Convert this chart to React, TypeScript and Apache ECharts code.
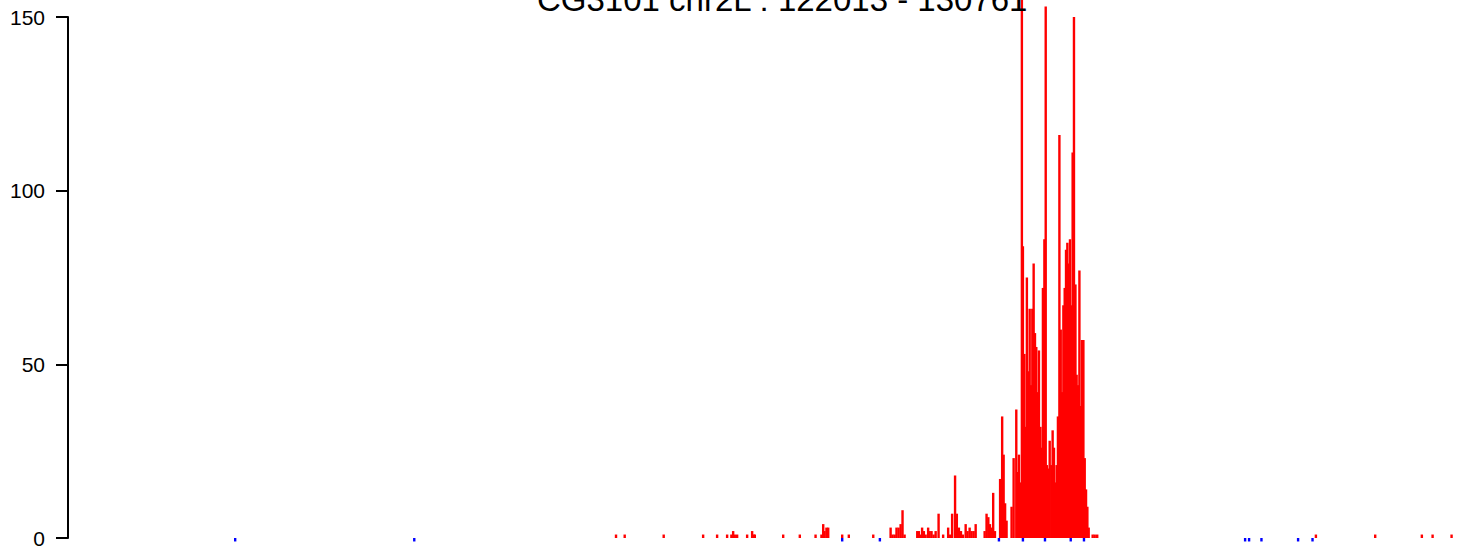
import React, { useEffect, useRef } from "react";
import * as echarts from "echarts";

const TITLE = "CG3101 chr2L : 122013 - 130761";
const X_MIN = 121500;
const X_MAX = 131000;
const Y_TICKS = [0, 50, 100, 150];

// plus-strand read counts (genomic position, count)
const redPos = [
  125224, 125283, 125548, 125816, 125911, 125979, 126008, 126020, 126031, 126047,
  126115, 126149, 126160, 126167, 126360, 126473, 126580, 126620, 126632, 126641,
  126654, 126666, 126761, 126806, 126972,
  127090, 127103, 127117, 127130, 127144, 127158, 127171, 127185,
  127271, 127282, 127294, 127304, 127316, 127328, 127345, 127355, 127368, 127382,
  127396, 127416, 127447, 127481, 127493, 127508, 127528, 127540, 127554, 127568,
  127581, 127600, 127613, 127627, 127640, 127654, 127668,
  127729, 127742, 127754, 127765, 127776, 127787, 127799, 127834, 127848, 127858,
  127868, 127878,
  127912, 127926, 127944, 127953, 127962, 127974, 127982, 127989, 127999, 128008,
  128016, 128026, 128035, 128044, 128053, 128062, 128071, 128080, 128089, 128098,
  128108, 128116, 128125, 128135, 128144, 128152, 128162, 128171,
  128182, 128191, 128200, 128210, 128218, 128227, 128237, 128246, 128254, 128264,
  128273, 128282, 128291, 128300, 128309, 128318, 128327, 128336, 128346, 128354,
  128363, 128373, 128382, 128390, 128400, 128409, 128418, 128427, 128436, 128463,
  128477, 128494,
  129980, 130383, 130700, 130773, 130902,
];
const redCount = [
  1, 1, 1, 1, 1, 1, 1, 2, 1, 1,
  1, 2, 1, 1, 1, 1, 1, 1, 4, 2,
  3, 3, 1, 1, 1,
  3, 1, 1, 3, 3, 4, 8, 1,
  2, 2, 1, 3, 2, 1, 3, 2, 2, 1,
  2, 7, 1, 3, 1, 7, 18, 7, 3, 2,
  1, 4, 2, 3, 2, 2, 4,
  2, 7, 6, 4, 3, 13, 2, 17, 35, 24,
  10, 5,
  9, 23, 37, 19, 24, 16, 156, 84, 53, 32,
  75, 48, 66, 44, 66, 79, 59, 55, 42, 54,
  32, 26, 72, 86, 153, 21, 20, 28,
  21, 31, 26, 16, 21, 35, 116, 60, 42, 67,
  72, 83, 85, 79, 86, 67, 111, 150, 73, 47,
  44, 77, 38, 57, 57, 23, 14, 9, 3, 1,
  1, 1,
  1, 1, 1, 1, 1,
];

// minus-strand read counts
const bluePos = [
  122636, 123853, 126761, 127017, 127826, 127989, 128139, 128314, 128404, 129499,
  129526, 129610, 129859, 129957,
];
const blueCount = [-1, -1, -1, -1, -1, -1, -1, -1, -1, -1, -1, -1, -1, -1];

const FONT = "'Liberation Sans', Arial, Helvetica, sans-serif";

export default function App() {
  const ref = useRef<HTMLDivElement>(null);

  useEffect(() => {
    if (!ref.current) return;
    const chart = echarts.init(ref.current, undefined, { renderer: "svg" });
    chart.setOption({
      animation: false,
      backgroundColor: "#ffffff",
      title: {
        text: TITLE,
        left: 532,
        top: -22,
        textStyle: {
          fontFamily: FONT,
          fontSize: 33,
          fontWeight: "normal",
          color: "#000000",
        },
      },
      grid: { left: 68, right: 7, top: 17, bottom: 20, containLabel: false },
      xAxis: {
        type: "value",
        min: X_MIN,
        max: X_MAX,
        show: false,
      },
      yAxis: {
        type: "value",
        min: Y_TICKS[0],
        max: Y_TICKS[Y_TICKS.length - 1],
        interval: 50,
        axisLine: { show: true, lineStyle: { color: "#000", width: 2 } },
        axisTick: { show: true, length: 12, lineStyle: { color: "#000", width: 2 } },
        axisLabel: {
          margin: 23,
          fontFamily: FONT,
          fontSize: 21,
          color: "#000",
        },
        splitLine: { show: false },
      },
      series: [
        {
          type: "bar",
          data: redPos.map((p, i) => [p, redCount[i]]),
          barWidth: 2.4,
          barGap: "-100%",
          clip: false,
          silent: true,
          itemStyle: { color: "#ff0000" },
        },
        {
          type: "bar",
          data: bluePos.map((p, i) => [p, blueCount[i]]),
          barWidth: 2.4,
          barGap: "-100%",
          clip: false,
          silent: true,
          itemStyle: { color: "#0000ff" },
        },
      ],
    });
    return () => chart.dispose();
  }, []);

  return (
    <div
      ref={ref}
      style={{ position: "fixed", left: 0, top: 0, width: 1473, height: 558 }}
    />
  );
}
